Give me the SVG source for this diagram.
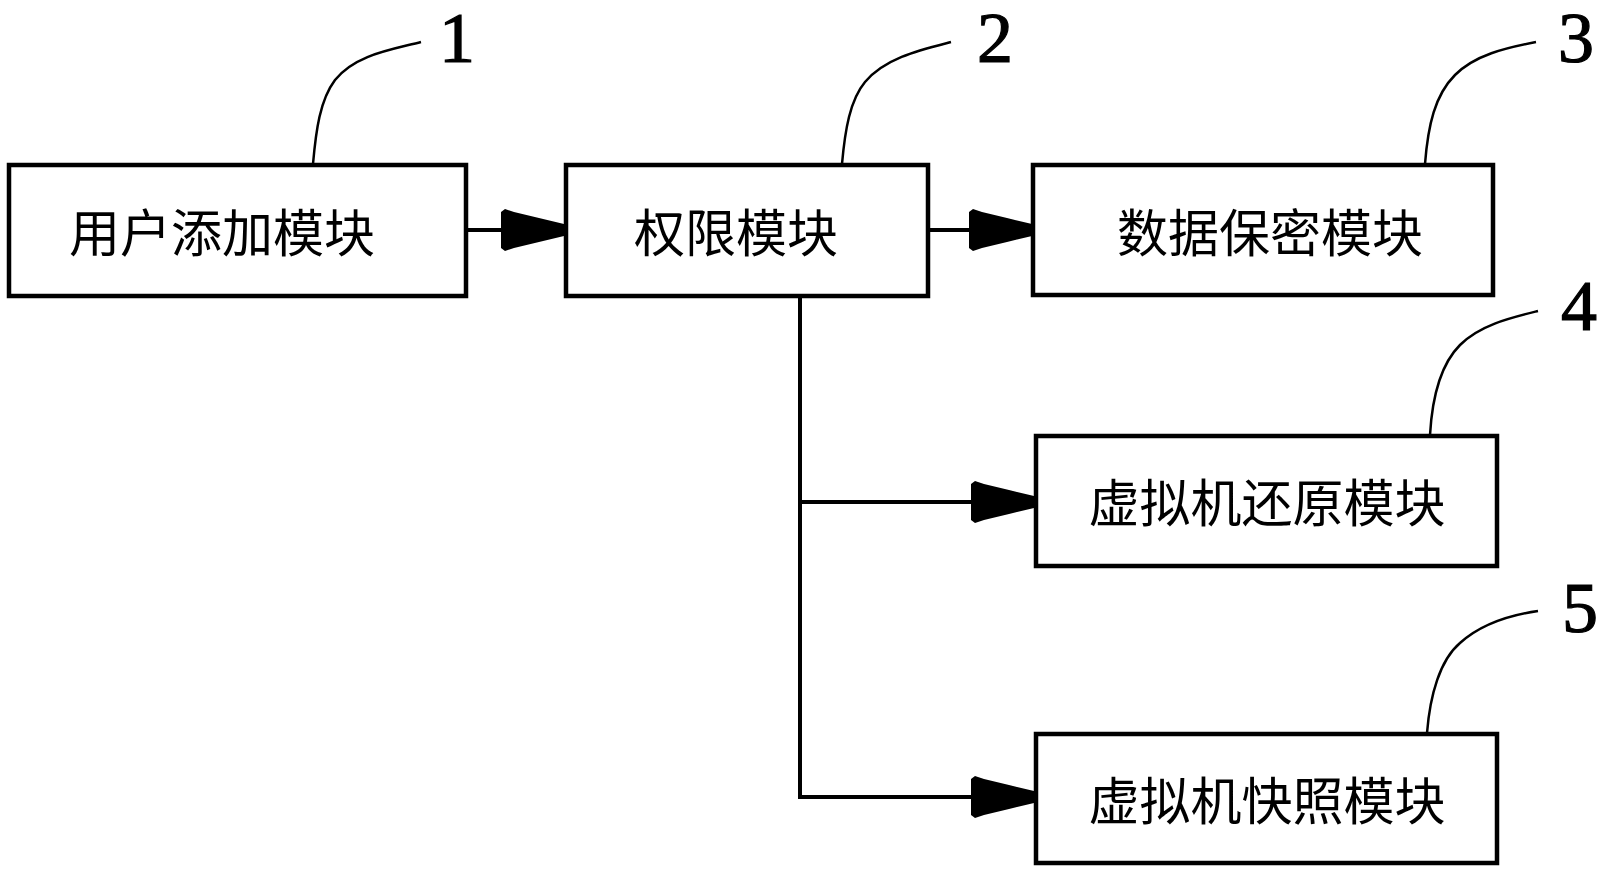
<svg xmlns="http://www.w3.org/2000/svg" xmlns:xlink="http://www.w3.org/1999/xlink" width="1607" height="870" viewBox="0 0 1607 870">
<style>
.box{fill:#fff;stroke:#000;stroke-width:4.5}
.lbl{font-family:"Noto Sans CJK SC","Liberation Sans",sans-serif;font-size:51px;fill:#000;text-anchor:middle;dominant-baseline:central}
.num{font-family:"Liberation Serif","DejaVu Serif",serif;font-size:72px;fill:#000;stroke:#000;stroke-width:1.2;text-anchor:middle}
.conn{fill:none;stroke:#000;stroke-width:4}
.lead{fill:none;stroke:#000;stroke-width:2.5}
</style>
<defs>
<path id="ah" d="M0,-6 L-25,-12 L-50,-18 L-59,-21 L-63,-18 L-63,18 L-59,21 L-50,18 L-25,12 L0,6 Z" fill="#000"/>
</defs>
<rect width="1607" height="870" fill="#fff"/>
<g id="connectors">
<line class="conn" x1="466" y1="230" x2="505" y2="230"/>
<use xlink:href="#ah" x="564" y="230"/>
<line class="conn" x1="928" y1="230" x2="970" y2="230"/>
<use xlink:href="#ah" x="1032" y="230"/>
<polyline class="conn" points="800,296 800,797 972,797"/>
<line class="conn" x1="800" y1="502" x2="972" y2="502"/>
<use xlink:href="#ah" x="1034" y="502"/>
<use xlink:href="#ah" x="1034" y="797"/>
</g>
<g id="node1">
<rect class="box" x="9" y="165" width="457" height="131"/>
<text class="lbl" x="222" y="230">用户添加模块</text>
<path class="lead" d="M313,164 C316,130 320,100 335,80 C355,55 390,50 421,42"/>
<text class="num" x="457" y="62">1</text>
</g>
<g id="node2">
<rect class="box" x="566" y="165" width="362" height="131"/>
<text class="lbl" x="736" y="230">权限模块</text>
<path class="lead" d="M842,164 C845,130 850,100 865,82 C885,58 920,50 951,42"/>
<text class="num" x="995" y="62">2</text>
</g>
<g id="node3">
<rect class="box" x="1033" y="165" width="460" height="130"/>
<text class="lbl" x="1270" y="230">数据保密模块</text>
<path class="lead" d="M1425,164 C1428,125 1435,95 1455,75 C1475,55 1505,48 1536,42"/>
<text class="num" x="1576" y="62">3</text>
</g>
<g id="node4">
<rect class="box" x="1036" y="436" width="461" height="130"/>
<text class="lbl" x="1267" y="500">虚拟机还原模块</text>
<path class="lead" d="M1430,435 C1432,400 1440,365 1460,345 C1480,325 1510,318 1538,311"/>
<text class="num" x="1579" y="330">4</text>
</g>
<g id="node5">
<rect class="box" x="1036" y="734" width="461" height="129"/>
<text class="lbl" x="1267" y="798">虚拟机快照模块</text>
<path class="lead" d="M1427,733 C1430,695 1440,660 1460,643 C1480,625 1510,615 1538,611"/>
<text class="num" x="1580" y="632">5</text>
</g>
</svg>
